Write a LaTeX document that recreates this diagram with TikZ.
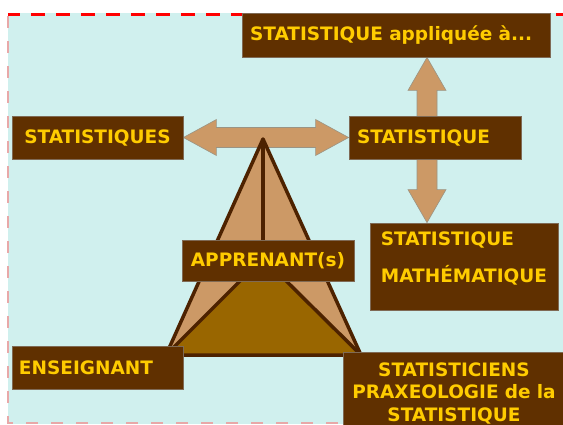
\documentclass[tikz,border=0pt]{standalone}
\usepackage{fontspec}
\setmainfont{DejaVu Sans}
\usetikzlibrary{calc}

\definecolor{sky}{HTML}{D0F0EE}
\definecolor{boxfill}{HTML}{603000}
\definecolor{boxline}{HTML}{7F6A55}
\definecolor{boxtext}{HTML}{FFCC00}
\definecolor{tan}{HTML}{CC9966}
\definecolor{arrowline}{HTML}{9A9484}
\definecolor{ochre}{HTML}{996600}
\definecolor{edge}{HTML}{4D2200}
\definecolor{faintred}{HTML}{E8A8A8}

\pgfdeclarelayer{back}
\pgfdeclarelayer{mid}
\pgfsetlayers{back,mid,main}

\newcommand{\boxfont}{\fontsize{18.5}{22.5}\selectfont\bfseries}

\tikzset{
  box/.style={draw=boxline, line width=.8pt, fill=boxfill, text=boxtext, font=\boxfont, inner xsep=8pt, inner ysep=0pt},
  boxtxt/.style={text=boxtext, font=\boxfont, align=left, inner sep=0pt},
  blockarrow/.style={draw=arrowline, line width=.6pt, fill=tan},
  tri/.style={draw=edge, line width=3.5pt, line join=round}
}

\begin{document}
\begin{tikzpicture}[x=1pt,y=-1pt]
\useasboundingbox (0,0) rectangle (563,424);

% boxes
\node[box, text width=292pt, align=left, minimum height=44pt] (apl) at (396,35) {STATISTIQUE appliquée à...};
\node[box, text width=155pt, align=center, minimum height=43pt] (stqs) at (97.5,137.5) {STATISTIQUES};
\node[box, text width=156pt, align=left, minimum height=43pt] (stq) at (435,137.5) {STATISTIQUE};
\node[box, text width=156pt, align=center, minimum height=41pt] (appr) at (268,260.5) {APPRENANT(s)};
\node[box, text width=157pt, align=left, inner xsep=7pt, minimum height=43pt] (ens) at (97.5,367.5) {ENSEIGNANT};
\node[box, minimum width=188pt, minimum height=87pt,
      label={[boxtxt, yshift=8pt]center:{STATISTIQUE\\[14.5pt]MATHÉMATIQUE}}] (math) at (464,266.5) {};
\node[box, text width=206pt, align=center, minimum height=82pt] (stcn) at (454,393) {STATISTICIENS\\PRAXEOLOGIE de la\\STATISTIQUE};

\coordinate (vax) at (427,0);

\begin{pgfonlayer}{back}
  \fill[sky] (8,13) rectangle (563,424);
  \draw[red, line width=3.5pt, dash pattern=on 14pt off 11pt, dash phase=2pt] (8,14.5) -- (563,14.5);
  \draw[faintred, line width=2pt, dash pattern=on 12pt off 13pt] (8,16) -- (8,423) -- (563,423);

  % arrows
  \draw[blockarrow] (stqs.east) -- ++(33,-18) -- ++(0,8) -- ($(stq.west)+(-33,-10)$) -- ++(0,-8)
     -- (stq.west) -- ++(-33,18) -- ++(0,-8) -- ($(stqs.east)+(33,10)$) -- ++(0,8) -- cycle;
  \draw[blockarrow] (apl.south -| vax) -- ++(19,33) -- ++(-9,0) -- ($(math.north -| vax)+(10,-33)$) -- ++(9,0)
     -- (math.north -| vax) -- ++(-19,-33) -- ++(9,0) -- ($(apl.south -| vax)+(-10,33)$) -- ++(-9,0) -- cycle;
\end{pgfonlayer}

\begin{pgfonlayer}{mid}
  \coordinate (apex) at (263,139);
  \coordinate (inner) at (263,258);
  \coordinate (left) at (166,355);
  \coordinate (right) at (361,355);
  \draw[tri, fill=tan] (apex) -- (left) -- (right) -- cycle;
  \draw[tri, fill=ochre] (inner) -- (left) -- (right) -- cycle;
  \draw[tri] (apex) -- (inner);
\end{pgfonlayer}
\end{tikzpicture}
\end{document}
